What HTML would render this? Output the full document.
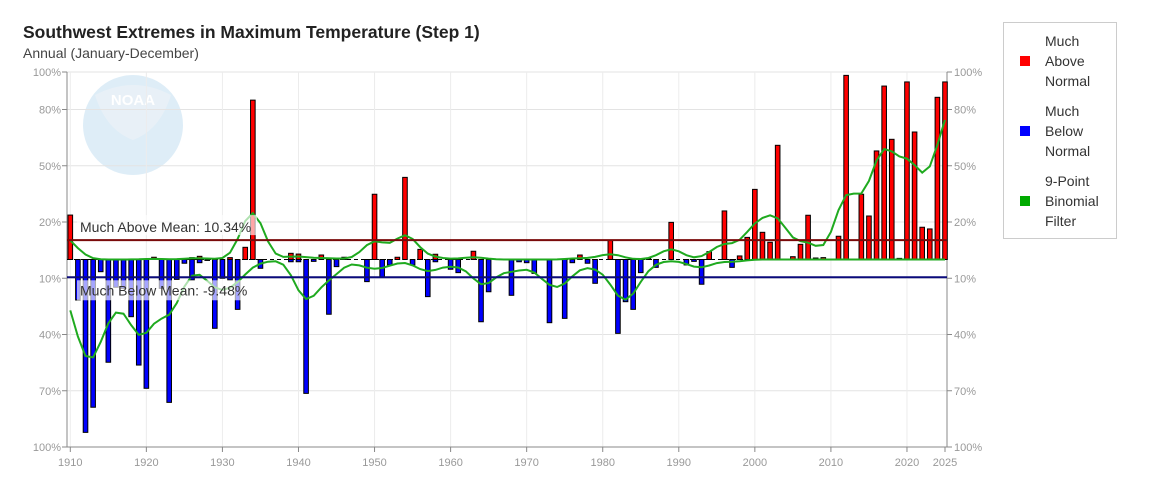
<!DOCTYPE html>
<html><head><meta charset="utf-8">
<style>
body{margin:0;background:#fff;width:1161px;height:475px;overflow:hidden;font-family:"Liberation Sans",sans-serif;}
svg text{font-family:"Liberation Sans",sans-serif;}
</style></head>
<body>
<svg id="chart" width="1161" height="475" xmlns="http://www.w3.org/2000/svg">
<text x="23" y="38" font-size="17.5" font-weight="bold" fill="#222">Southwest Extremes in Maximum Temperature (Step 1)</text>
<text x="23" y="58" font-size="14" fill="#444">Annual (January-December)</text>
<g opacity="0.15">
<circle cx="133" cy="125" r="50" fill="#2a8fd0"/>
<path d="M95 95 Q133 75 171 95 Q160 130 133 140 Q106 130 95 95Z" fill="#9ac" opacity="0.6"/>
<text x="133" y="105" font-size="15" font-weight="bold" fill="#fff" text-anchor="middle">NOAA</text>
</g>
<g id="grid"></g>
<g id="marks"></g>
<g>
<rect x="1003.5" y="22.5" width="113" height="216" fill="#fff" stroke="#ccc"/>
<rect x="1020" y="56" width="10" height="10" fill="#f00"/>
<text font-size="14" fill="#333"><tspan x="1045" y="46">Much</tspan><tspan x="1045" y="66">Above</tspan><tspan x="1045" y="86">Normal</tspan></text>
<rect x="1020" y="126" width="10" height="10" fill="#00f"/>
<text font-size="14" fill="#333"><tspan x="1045" y="116">Much</tspan><tspan x="1045" y="136">Below</tspan><tspan x="1045" y="156">Normal</tspan></text>
<rect x="1020" y="196" width="10" height="10" fill="#0a0"/>
<text font-size="14" fill="#333"><tspan x="1045" y="186">9-Point</tspan><tspan x="1045" y="206">Binomial</tspan><tspan x="1045" y="226">Filter</tspan></text>
</g>
</svg>
<script>
const startYear = 1910;
const aboveValues = [23.7,0,0,0,0,0,0,0,0,0, 0,1.2,0,0,0,0,1,1.7,0,0, 0,1,0,6.5,85,0,0,0,0,3.3, 2.9,0,0,2.4,0,0,1.2,0,0,0, 34.8,0,0,1.2,43.8,0,5.4,0,2.8,0, 0,0,0,4.4,0,0,0,0,0,0, 0,0,0,0,0,0,0,2.4,0,0, 0,10.4,0,0,0,0,0.6,0,0,19.8, 0,0,0,0,4.2,0,25.9,0,1.9,11.8, 37.4,14.5,9.2,60.9,0,1.5,8.1,23.6,0.8,1, 0,12.4,98.2,0,34.8,23.2,57.9,92.5,64.1,0.6, 94.7,68,17.2,16.3,86.5,94.7];
const belowValues = [0,21.6,92.2,78.8,6.5,54.8,14.8,15.4,30.5,56.3, 68.7,0,15.4,76.2,10.6,2,10.9,1.7,0.5,36.7, 10,10.9,26.6,0,0,4.7,0,0,0,1.2, 1.2,71.4,1,0,29.2,3.8,0,0,0,11.8, 0,9.5,2.9,0,0,2.9,0,19.8,1.2,0, 5.2,7,0,0,33.2,17.2,0,0,19.1,1.2, 1.7,7.4,0,33.7,0,31.4,1.7,0,2,12.7, 0,0,39.4,22.5,26.6,7,0,4.2,0,0, 0,2.9,1,13.2,0,0,0,4.2,0,0, 0,0,0,0,0,0,0,0,0,0, 0,0,0,0,0,0,0,0,0,0, 0,0,0,0,0,0];
const tickValues = [100,80,50,20,-10,-40,-70,-100];
const tickLabels = ["100%","80%","50%","20%","10%","40%","70%","100%"];
const yearTicks = [1910,1920,1930,1940,1950,1960,1970,1980,1990,2000,2010,2020,2025];
const aboveMean = 10.34;
const belowMean = -9.48;

const NS="http://www.w3.org/2000/svg";
const x0=70.3, x1=945, y0=259.5, pxPer=1.875;
const xs = yr => x0 + (yr-startYear)*(x1-x0)/(2025-startYear);
const ys = v => y0 - v*pxPer;
function mk(tag,attrs,parent){const e=document.createElementNS(NS,tag);for(const k in attrs)e.setAttribute(k,attrs[k]);parent.appendChild(e);return e;}
const grid=document.getElementById('grid'), marks=document.getElementById('marks');
const L=67, R=947, T=ys(100), B=ys(-100);
tickValues.forEach((v,i)=>{
  const y=ys(v);
  const g=mk('line',{x1:L,x2:R,y1:y,y2:y,stroke:'#e3e3e3'},grid);
  
  
  mk('line',{x1:L-5,x2:L,y1:y,y2:y,stroke:'#888'},grid);
  mk('line',{x1:R,x2:R+5,y1:y,y2:y,stroke:'#888'},grid);
  const t=mk('text',{x:L-6,y:y+4,'font-size':11,fill:'#999','text-anchor':'end'},grid);
  t.textContent=tickLabels[i];
  
  
  const t2=mk('text',{x:R+7,y:y+4,'font-size':11,fill:'#999'},grid);
  t2.textContent=tickLabels[i];
  
  
});
yearTicks.forEach(yr=>{
  const x=xs(yr);
  if(yr%10===0){const g=mk('line',{x1:x,x2:x,y1:T,y2:B,stroke:'#ececec'},grid);
  
  }
  mk('line',{x1:x,x2:x,y1:B,y2:B+5,stroke:'#888'},grid);
  const t=mk('text',{x:x,y:B+19,'font-size':11,fill:'#999','text-anchor':'middle'},grid);
  t.textContent=yr;
  
  
});
mk('line',{x1:L,x2:L,y1:T,y2:B,stroke:'#888'},grid);
mk('line',{x1:R,x2:R,y1:T,y2:B,stroke:'#888'},grid);
mk('line',{x1:L,x2:R,y1:B,y2:B,stroke:'#888'},grid);
const zl=mk('line',{x1:L,x2:R,y1:y0,y2:y0,stroke:'#000','stroke-dasharray':'4,3'},marks);


aboveValues.forEach((v,i)=>{
  if(v<=0)return;
  const x=xs(startYear+i);
  const r=mk('rect',{x:x-2.3,y:ys(v),width:4.6,height:y0-ys(v),fill:'#f00',stroke:'#000','stroke-width':1},marks);
  
  
});
belowValues.forEach((v,i)=>{
  if(v<=0)return;
  const x=xs(startYear+i);
  const r=mk('rect',{x:x-2.3,y:y0,width:4.6,height:ys(-v)-y0,fill:'#00f',stroke:'#000','stroke-width':1},marks);
  
  
});
function binom(arr){const w=[1,8,28,56,70,56,28,8,1];return arr.map((_,i)=>{let s=0,ws=0;for(let k=-4;k<=4;k++){const j=i+k;if(j>=0&&j<arr.length){s+=arr[j]*w[k+4];ws+=w[k+4];}}return s/ws;});}
function line(vals,sign,name){
  const d=vals.map((v,i)=>(i?'L':'M')+xs(startYear+i).toFixed(1)+' '+ys(sign*v).toFixed(1)).join(' ');
  const p=mk('path',{d:d,fill:'none',stroke:'#1faa1f','stroke-width':2},marks);
  
  
}
line(binom(aboveValues),1,'above-filter-line');
line(binom(belowValues),-1,'below-filter-line');
const ma=mk('line',{x1:L,x2:R,y1:ys(aboveMean),y2:ys(aboveMean),stroke:'#7a0a0a','stroke-width':2},marks);


const mb=mk('line',{x1:L,x2:R,y1:ys(belowMean),y2:ys(belowMean),stroke:'#0a0a7a','stroke-width':2},marks);


const ra=mk('rect',{x:77,y:ys(aboveMean)-25,width:180,height:20,fill:'#fff',opacity:0.65},marks);


const ta=mk('text',{x:80,y:ys(aboveMean)-8,'font-size':14,fill:'#333'},marks);
ta.textContent='Much Above Mean: '+aboveMean+'%';


const rb=mk('rect',{x:77,y:ys(belowMean)+3,width:180,height:20,fill:'#fff',opacity:0.65},marks);


const tb=mk('text',{x:80,y:ys(belowMean)+18,'font-size':14,fill:'#333'},marks);
tb.textContent='Much Below Mean: '+belowMean+'%';


</script>
</body></html>
